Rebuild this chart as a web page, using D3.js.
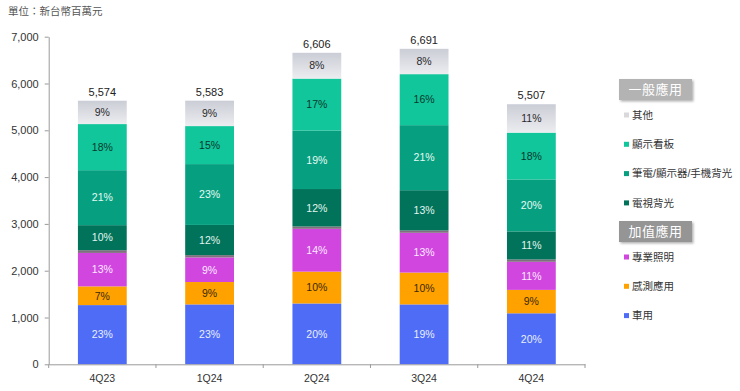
<!DOCTYPE html>
<html><head><meta charset="utf-8">
<script src="https://cdn.jsdelivr.net/npm/d3@7"></script>
<style>
html,body{margin:0;padding:0;background:#fff;}
svg text{font-family:"Liberation Sans","Noto Sans CJK TC",Arial,sans-serif;}
</style></head>
<body>
<svg id="chart" width="740" height="391"></svg>
<script>
// ---- data (NT$ millions) ----
const quarters = ["4Q23","1Q24","2Q24","3Q24","4Q24"];
const totals   = [5574, 5583, 6606, 6691, 5507];
const auto     = [1265, 1280, 1300, 1280, 1090];  // 車用
const sensing  = [400, 478, 680, 680, 500];        // 感測應用
const lighting = [715, 525, 915, 850, 600];        // 專業照明
const minor    = [58, 50, 50, 50, 50];             // thin unlabeled band
const tvBL     = [535, 645, 800, 860, 600];        // 電視背光
const nbBL     = [1175, 1300, 1250, 1390, 1110];   // 筆電/顯示器/手機背光
const signage  = [985, 812, 1110, 1090, 1000];     // 顯示看板
const others   = [499, 543, 551, 541, 607];        // 其他
const pctAuto     = ["23%","23%","20%","19%","20%"];
const pctSensing  = ["7%","9%","10%","10%","9%"];
const pctLighting = ["13%","9%","14%","13%","11%"];
const pctTV       = ["10%","12%","12%","13%","11%"];
const pctNB       = ["21%","23%","19%","21%","20%"];
const pctSignage  = ["18%","15%","17%","16%","18%"];
const pctOthers   = ["9%","9%","8%","8%","11%"];
const yTicks = [0,1000,2000,3000,4000,5000,6000,7000];

const series = [
  {key:"車用", values:auto, pct:pctAuto, color:"#4e6cf6", text:"#e9efff"},
  {key:"感測應用", values:sensing, pct:pctSensing, color:"#ffa200", text:"#3a2800"},
  {key:"專業照明", values:lighting, pct:pctLighting, color:"#d046df", text:"#fbe9ff"},
  {key:"_minor", values:minor, pct:null, color:"#80707f", text:null},
  {key:"電視背光", values:tvBL, pct:pctTV, color:"#00735a", text:"#e3f5ef"},
  {key:"筆電/顯示器/手機背光", values:nbBL, pct:pctNB, color:"#06a081", text:"#e6faf4"},
  {key:"顯示看板", values:signage, pct:pctSignage, color:"#12c69b", text:"#08382b"},
  {key:"其他", values:others, pct:pctOthers, color:"url(#grayGrad)", text:"#2a2a2a"}
];
const legendGroups = [
  {title:"一般應用", fill:"#b3b3b3", items:[["其他","#d9d9db"],["顯示看板","#12c69b"],["筆電/顯示器/手機背光","#06a081"],["電視背光","#00735a"]]},
  {title:"加值應用", fill:"#959595", items:[["專業照明","#d046df"],["感測應用","#ffa200"],["車用","#4e6cf6"]]}
];

const svg = d3.select("#chart");
const defs = svg.append("defs");
const grad = defs.append("linearGradient").attr("id","grayGrad").attr("x1",0).attr("y1",0).attr("x2",0).attr("y2",1);
grad.append("stop").attr("offset","0%").attr("stop-color","#cbcdd6");
grad.append("stop").attr("offset","100%").attr("stop-color","#ecedf0");
const filt = defs.append("filter").attr("id","shadow").attr("x","-20%").attr("y","-20%").attr("width","150%").attr("height","160%");
filt.append("feDropShadow").attr("dx",1.5).attr("dy",1.5).attr("stdDeviation",1.2).attr("flood-color","#000").attr("flood-opacity",0.3);

const x = d3.scaleBand().domain(quarters).range([48.7, 585]).paddingInner(0.545).paddingOuter(0.2725);
const y = d3.scaleLinear().domain([0,7000]).range([364.3, 36.7]);

// title
svg.append("text").attr("x",8).attr("y",15).attr("font-size",10.5).attr("fill","#555").text("單位：新台幣百萬元");

// y axis
const yAxis = svg.append("g").attr("transform","translate(48.7,0)")
  .call(d3.axisLeft(y).tickValues(yTicks).tickFormat(d3.format(",")).tickSize(4).tickSizeOuter(0));
yAxis.select(".domain").attr("stroke","#9a9a9a");
yAxis.selectAll(".tick line").attr("stroke","#9a9a9a");
yAxis.selectAll(".tick text").attr("font-size",11).attr("fill","#333").attr("x",-10);

// stacked bars
const rows = quarters.map((q,i)=>{const r={q}; series.forEach(s=>r[s.key]=s.values[i]); return r;});
const stacked = d3.stack().keys(series.map(s=>s.key))(rows);
stacked.forEach((layer,li)=>{
  const s = series[li];
  const grp = svg.append("g");
  grp.selectAll("rect").data(layer).join("rect")
    .attr("x",d=>x(d.data.q)).attr("width",x.bandwidth())
    .attr("y",d=>y(d[1])).attr("height",d=>y(d[0])-y(d[1]))
    .attr("fill",s.color);
  if(s.pct){
    grp.selectAll("text").data(layer).join("text")
      .attr("x",d=>x(d.data.q)+x.bandwidth()/2)
      .attr("y",d=>(y(d[0])+y(d[1]))/2)
      .attr("dy","0.36em").attr("text-anchor","middle")
      .attr("font-size",10.5).attr("fill",s.text)
      .text((d,i)=>s.pct[i]);
  }
});
// totals
const topLayer = stacked[stacked.length-1];
svg.append("g").selectAll("text").data(topLayer).join("text")
  .attr("x",d=>x(d.data.q)+x.bandwidth()/2).attr("y",d=>y(d[1])-5)
  .attr("text-anchor","middle").attr("font-size",11).attr("fill","#222")
  .text((d,i)=>d3.format(",")(totals[i]));

// x axis
const xAxis = svg.append("g").attr("transform","translate(0,364.3)")
  .call(d3.axisBottom(x).tickSize(0).tickSizeOuter(0));
xAxis.select(".domain").attr("stroke","#9a9a9a");
xAxis.selectAll(".tick text").attr("font-size",10.5).attr("fill","#333").attr("dy","1.4em");
const bounds = quarters.map(q=>x(q)-x.step()*x.paddingInner()/2).concat([x.range()[1]]);
svg.append("g").selectAll("line").data(bounds).join("line")
  .attr("x1",d=>d).attr("x2",d=>d).attr("y1",364.3).attr("y2",368).attr("stroke","#9a9a9a");

// legend
let ly = 79;
const lg = svg.append("g");
legendGroups.forEach(grpDef=>{
  lg.append("rect").attr("x",619).attr("y",ly).attr("width",73).attr("height",21)
    .attr("fill",grpDef.fill).attr("filter","url(#shadow)");
  lg.append("text").attr("x",655.5).attr("y",ly+10.5).attr("dy","0.36em").attr("text-anchor","middle")
    .attr("font-size",13).attr("letter-spacing",0.5).attr("fill","#fff").text(grpDef.title);
  let iy = ly + 36;
  grpDef.items.forEach(([name,col])=>{
    lg.append("rect").attr("x",624).attr("y",iy-2.5).attr("width",5).attr("height",5).attr("fill",col);
    lg.append("text").attr("x",632).attr("y",iy).attr("dy","0.36em").attr("font-size",10.5).attr("fill","#333").text(name);
    iy += 29.3;
  });
  ly = 221;
});
</script>
</body></html>
